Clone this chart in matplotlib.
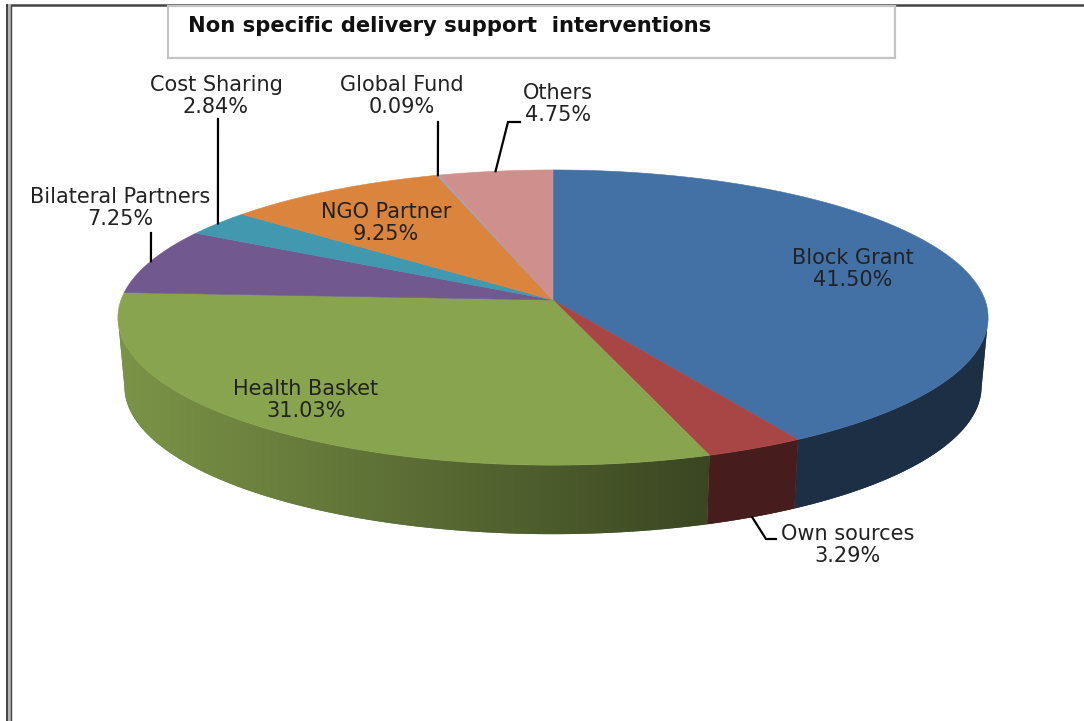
import numpy as np
import matplotlib
matplotlib.use("Agg")
import matplotlib.pyplot as plt
from matplotlib.colors import to_rgb
from matplotlib.patches import Polygon, Rectangle

title = "Non specific delivery support  interventions"
categories = ["Block Grant", "Own sources", "Health Basket", "Bilateral Partners",
              "Cost Sharing", "NGO Partner", "Global Fund", "Others"]
values = [41.50, 3.29, 31.03, 7.25, 2.84, 9.25, 0.09, 4.75]
colors = ["#4371a6", "#a74644", "#89a44f", "#71588f", "#4198af", "#db843d", "#93a9cf", "#cf8f8d"]

# layout (pixels): label centre, leader elbow path from the slice rim
label_pos = {
    "Block Grant": (853, 269), "Own sources": (848, 545), "Health Basket": (306, 400),
    "Bilateral Partners": (120, 208), "Cost Sharing": (216, 96), "NGO Partner": (386, 223),
    "Global Fund": (402, 96), "Others": (558, 104),
}
leaders = {
    "Own sources": [(766, 539), (776, 539)],
    "Bilateral Partners": [(151, 233)],
    "Cost Sharing": [(218, 119)],
    "Global Fund": [(438, 122)],
    "Others": [(508, 122), (520, 122)],
}

CX, CY, A, B, P = 553.0, 300.0, 432.0, 145.5, 0.119
DROP, SHRINK = 69.0, 0.985


def project(theta, bottom=False):
    """Clockwise angle from 12 o'clock -> pixel point on the perspective circle."""
    u, v = np.sin(theta), np.cos(theta)
    w = 1.0 / (1.0 + P * v)
    if bottom:
        return CX + SHRINK * A * u * w, CY - B * v * w + DROP
    return CX + A * u * w, CY - B * v * w


def shade(x):
    return np.interp(x, [120, 720], [0.90, 0.42])


fig = plt.figure(figsize=(10.84, 7.21), dpi=100, facecolor="white")
ax = fig.add_axes([0, 0, 1, 1])
ax.axis("off")

# page frame
ax.plot([7, 1084], [5, 5], color="#444444", lw=1.8, zorder=1)
ax.plot([7, 7], [5, 721], color="#333333", lw=1.3, zorder=1)
ax.plot([9.2, 9.2], [5, 721], color="#b5b5b5", lw=2.2, zorder=1)
ax.plot([11, 11], [6, 721], color="#444444", lw=1.0, zorder=1)

# title box
ax.add_patch(Rectangle((168, 6), 727, 52, facecolor="white", edgecolor="#c4c4c4", lw=1.6, zorder=1))
ax.text(188, 26, title, fontsize=15.2, fontweight="bold", color="#111111",
        va="center", ha="left", zorder=5)

edges = np.cumsum([0] + values) / sum(values) * 2 * np.pi
step = np.radians(0.5)

# side wall: one clipped horizontal gradient per slice, only the front-facing arc
xgrid = np.linspace(0, 1084, 1085)
for i in range(len(values)):
    t0, t1 = edges[i], edges[i + 1]
    th = np.linspace(t0, t1, max(2, int((t1 - t0) / step)) + 1)
    th = th[np.cos(th) <= -P]
    if len(th) < 2:
        continue
    tx, ty = project(th)
    bx, by = project(th, True)
    outline = np.r_[np.c_[tx, ty], np.c_[bx, by][::-1]]
    base = np.array(to_rgb(colors[i]))
    poly = Polygon(outline, closed=True, facecolor=base * shade(outline[:, 0].mean()),
                   edgecolor="none", zorder=2)
    ax.add_patch(poly)
    grad = np.outer(shade(xgrid), base).reshape(1, -1, 3)
    im = ax.imshow(grad, extent=[0, 1084, 721, 0], aspect="auto", zorder=2.1,
                   interpolation="nearest")
    im.set_clip_path(poly)

ax.set_xlim(0, 1084)
ax.set_ylim(721, 0)

# top surface
for i, col in enumerate(colors):
    th = np.linspace(edges[i], edges[i + 1], max(2, int((edges[i + 1] - edges[i]) / step)) + 1)
    xs, ys = project(th)
    ax.add_patch(Polygon(np.r_[[[CX, CY]], np.c_[xs, ys]], closed=True, facecolor=col,
                         edgecolor=col, lw=0.4, zorder=3))

# labels and leader lines
for i, name in enumerate(categories):
    x, y = label_pos[name]
    ax.text(x, y, f"{name}\n{values[i]:.2f}%", fontsize=15, color="#222222", ha="center",
            va="center", linespacing=1.15, zorder=6)
    if name in leaders:
        mid = (edges[i] + edges[i + 1]) / 2
        start = project(mid, bottom=(name == "Own sources"))
        pts = [start] + leaders[name]
        ax.plot(*zip(*pts), color="black", lw=1.6, zorder=5, solid_joinstyle="miter")

fig.savefig("out.png", dpi=100, facecolor="white")
